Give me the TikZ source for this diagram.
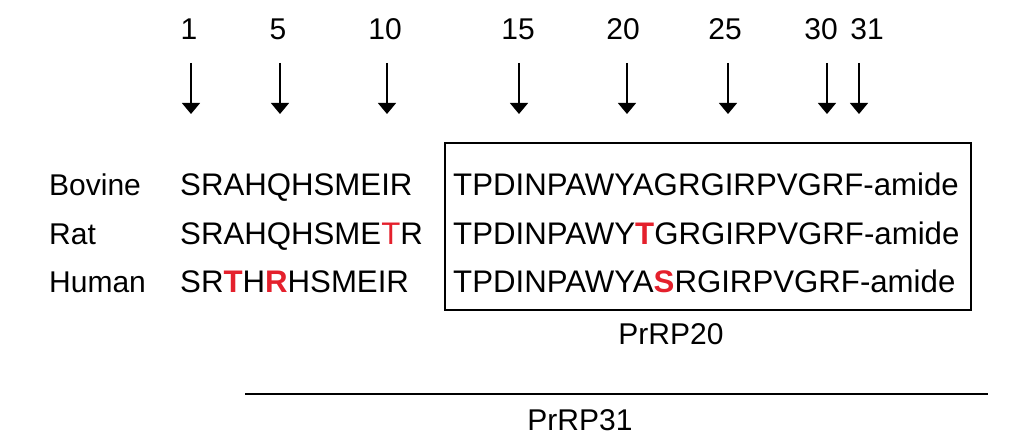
\documentclass[tikz,border=0pt]{standalone}
\usepackage{fontspec}
\setmainfont{Liberation Sans}
\usepackage{tikz}
\usetikzlibrary{arrows.meta, positioning}
\definecolor{mutred}{RGB}{228,32,44}
\newcommand{\mut}[1]{\textcolor{mutred}{\textbf{#1}}}
\newcommand{\mutl}[1]{\textcolor{mutred}{#1}}

\begin{document}
\begin{tikzpicture}[x=1pt, y=-1pt,
  seq/.style={inner sep=0pt, anchor=base west, font=\fontsize{31.2}{36}\selectfont},
  lbl/.style={inner sep=0pt, anchor=base west, font=\fontsize{30}{36}\selectfont},
  num/.style={inner sep=0pt, anchor=base, font=\fontsize{30}{36}\selectfont},
  posarrow/.style={-{Triangle[width=18pt, length=11pt]}, line width=1.3pt}]
  \useasboundingbox (0,0) rectangle (1014,441);

  % residue numbers and arrows
  \foreach \n/\xn/\xa in {1/189/191, 5/278/280, 10/385/387, 15/518/519,
                          20/623/627, 25/725/728, 30/821/827, 31/867/859} {
    \node[num] (num\n) at (\xn,40) {\n};
    \coordinate (top\n) at (\xa,63);
    \coordinate (tip\n) at (\xa,114);
    \draw[posarrow] (top\n) -- (tip\n);
  }

  % species names
  \node[lbl] (bovine) at (49,195) {Bovine};
  \node[lbl] (rat)    at (49,244) {Rat};
  \node[lbl] (human)  at (49,292) {Human};

  % N-terminal part
  \node[seq] (bovineN) at (180,195) {SRAHQHSMEIR};
  \node[seq] (ratN)    at (180,244) {SRAHQHSME\mutl{T}R};
  \node[seq] (humanN)  at (180,292) {SR\mut{T}H\mut{R}HSMEIR};

  % C-terminal part (PrRP20)
  \node[draw, line width=1.4pt, minimum width=526pt, minimum height=167pt]
    (box20) at (708,226.5) {};
  \node[seq] (bovineC) at (453,195) {TPDINPAWYAGRGIRPVGRF-amide};
  \node[seq] (ratC)    at (453,244) {TPDINPAWY\mut{T}GRGIRPVGRF-amide};
  \node[seq] (humanC)  at (453,292) {TPDINPAWYA\mut{S}RGIRPVGRF-amide};
  \node[num] (pr20) at (671,344) {PrRP20};

  % PrRP31 span
  \coordinate (span31a) at (245,394);
  \coordinate (span31b) at (988,394);
  \draw[line width=1.8pt] (span31a) -- (span31b);
  \node[num] (pr31) at (580,430) {PrRP31};
\end{tikzpicture}
\end{document}
